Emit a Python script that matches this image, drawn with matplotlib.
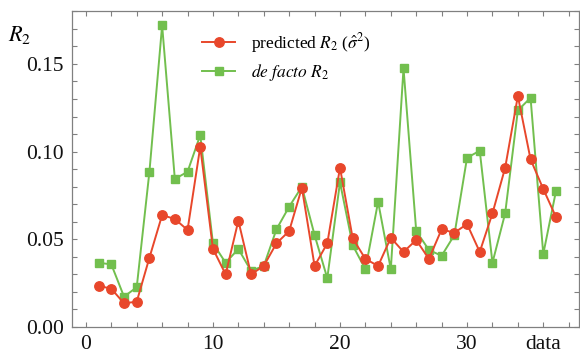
import matplotlib
matplotlib.use("Agg")
import matplotlib.pyplot as plt
from matplotlib.ticker import MultipleLocator, FixedLocator

plt.rcParams['font.family'] = ['Liberation Serif', 'DejaVu Serif']
plt.rcParams['mathtext.fontset'] = 'stix'

# values
data_index = list(range(1, 38))
predicted_r2 = [0.0235, 0.0218, 0.0135, 0.0144, 0.0395, 0.0638, 0.0616, 0.0553, 0.1028, 0.0446,
                0.0300, 0.0606, 0.0300, 0.0348, 0.0477, 0.0547, 0.0794, 0.0348, 0.0477, 0.0908,
                0.0506, 0.0388, 0.0348, 0.0509, 0.0428, 0.0496, 0.0388, 0.0557, 0.0537, 0.0587,
                0.0428, 0.0648, 0.0908, 0.1317, 0.0956, 0.0787, 0.0627]
defacto_r2 = [0.0366, 0.0357, 0.0173, 0.0226, 0.0885, 0.1720, 0.0844, 0.0885, 0.1094, 0.0477,
              0.0366, 0.0445, 0.0320, 0.0348, 0.0557, 0.0686, 0.0800, 0.0524, 0.0278, 0.0825,
              0.0466, 0.0329, 0.0714, 0.0329, 0.1475, 0.0547, 0.0439, 0.0406, 0.0524, 0.0965,
              0.1005, 0.0366, 0.0648, 0.1235, 0.1307, 0.0416, 0.0775]
# the axis name "data" sits in the tick row, at x = 36
x_ticks = [0, 10, 20, 30, 36]
x_tick_labels = ['0', '10', '20', '30', 'data']
y_ticks = [0.00, 0.05, 0.10, 0.15]

RED = '#e8472b'
GREEN = '#72bf4e'
FRAME = '#808080'

fig = plt.figure(figsize=(5.8, 3.55), dpi=100)
ax = fig.add_axes([0.124, 0.079, 0.874, 0.889])

ax.plot(data_index, predicted_r2, color=RED, lw=1.4, marker='o', ms=6.8,
        label=r'predicted $R_2$ ($\hat{\sigma}^2$)', zorder=3)
ax.plot(data_index, defacto_r2, color=GREEN, lw=1.4, marker='s', ms=5.6,
        label=r'$\it{de\ facto}$ $R_2$', zorder=2)

ax.set_xlim(-1.1, 38.8)
ax.set_ylim(0, 0.18)

ax.xaxis.set_major_locator(FixedLocator(x_ticks))
ax.set_xticklabels(x_tick_labels)
ax.xaxis.set_minor_locator(MultipleLocator(2))
ax.yaxis.set_major_locator(FixedLocator(y_ticks))
ax.set_yticklabels(['%.2f' % v for v in y_ticks])
ax.yaxis.set_minor_locator(MultipleLocator(0.01))

ax.tick_params(which='both', direction='in', top=True, right=True, length=3.5,
               width=0.8, color=FRAME, labelsize=15.5, labelcolor='#111111')
ax.tick_params(axis='x', pad=6)
ax.tick_params(axis='y', pad=6)
for s in ax.spines.values():
    s.set_color(FRAME)
    s.set_linewidth(0.9)

fig.text(0.014, 0.90, r'$R_2$', fontsize=16, ha='left', va='center')

ax.legend(loc='upper left', bbox_to_anchor=(0.243, 0.96), frameon=False,
          fontsize=12.5, handlelength=1.9, handletextpad=0.9, labelspacing=0.4,
          borderaxespad=0)

fig.savefig('out.png', dpi=100)
